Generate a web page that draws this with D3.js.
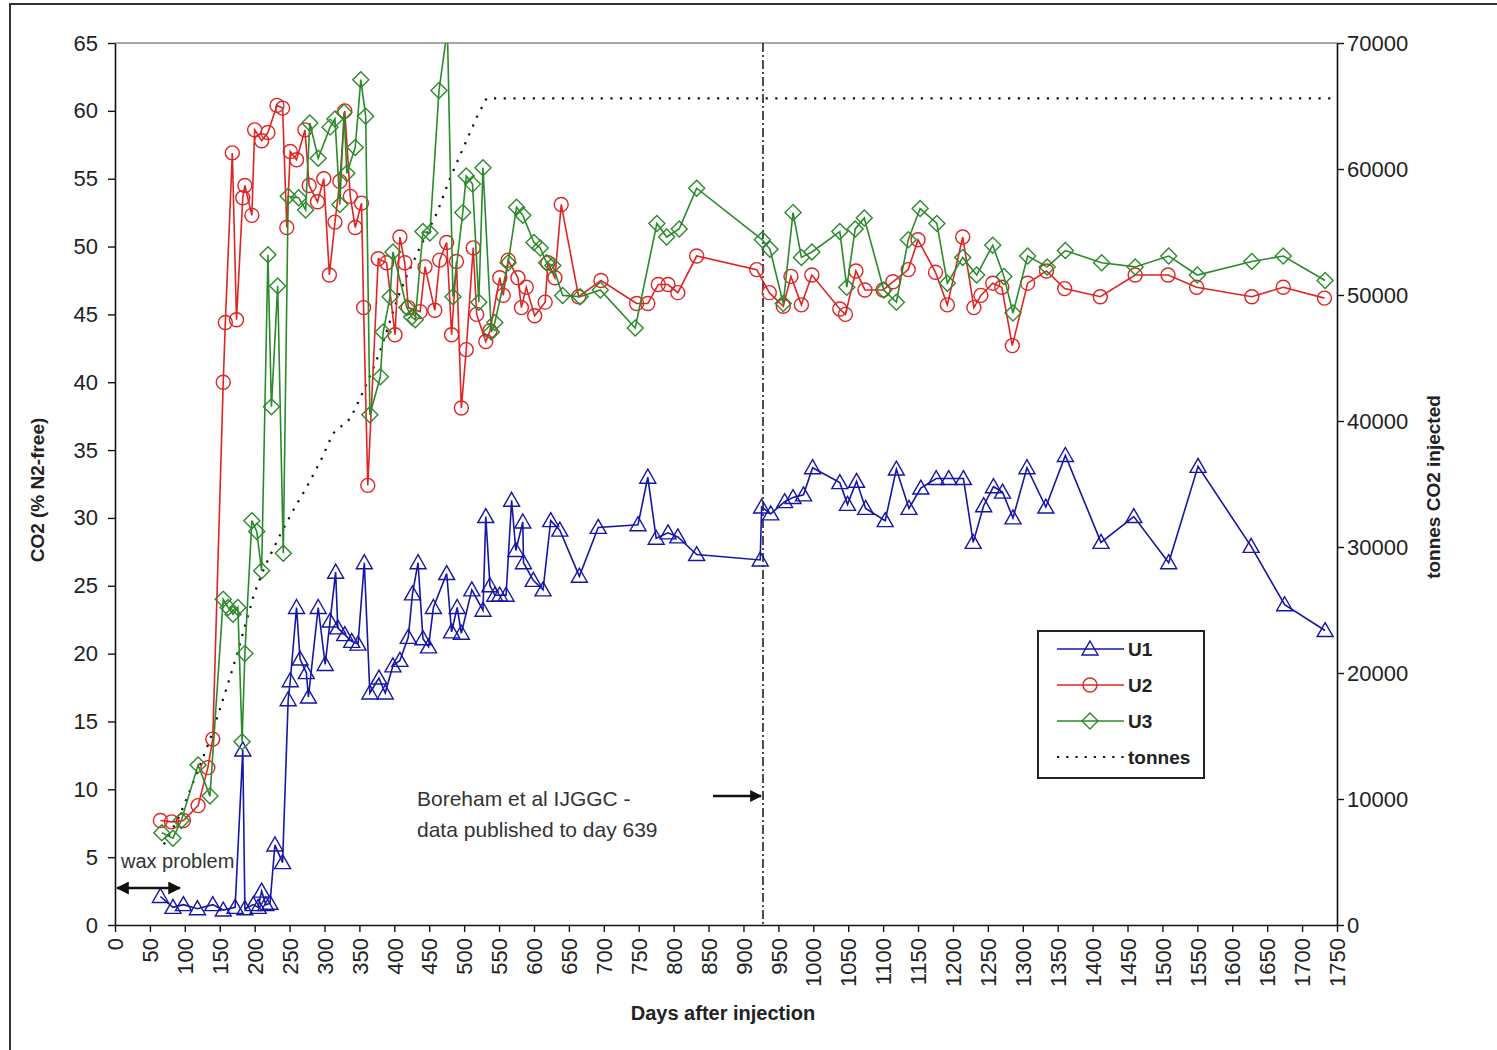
<!DOCTYPE html>
<html><head><meta charset="utf-8">
<script src="https://cdn.jsdelivr.net/npm/d3@7"></script>
<style>
body{margin:0;background:#fff}
text{font-family:Arial,"Liberation Sans",sans-serif}
</style>
</head><body>
<svg id="chart" width="1497" height="1050"></svg>
<script>
// CO2 concentration (% N2-free) at monitoring wells, [day, value]
const u1 = [[65,2.1],[83,1.3],[98,1.5],[118,1.2],[140,1.5],[155,1.1],[172,1.3],[183,12.9],[186,1.2],[198,1.5],[205,1.3],[210,2.5],[216,1.5],[222,1.6],[229,5.9],[240,4.6],[248,16.6],[251,18.0],[260,23.4],[265,19.6],[274,18.6],[277,16.8],[291,23.4],[301,19.2],[308,22.4],[316,26.0],[319,21.9],[329,21.4],[339,20.9],[348,20.7],[357,26.7],[365,17.1],[378,18.2],[387,17.1],[398,19.1],[408,19.5],[420,21.2],[426,24.4],[434,26.7],[441,21.1],[449,20.5],[456,23.4],[475,25.9],[482,21.6],[490,23.4],[496,21.5],[511,24.7],[527,23.2],[531,30.1],[537,25.0],[544,24.3],[551,24.3],[560,24.3],[568,31.3],[574,27.6],[584,29.7],[585,26.7],[599,25.4],[613,24.7],[624,29.8],[637,29.1],[665,25.7],[692,29.3],[749,29.5],[763,33.0],[775,28.5],[792,28.9],[806,28.6],[833,27.3],[924,26.9],[926,30.8],[939,30.3],[959,31.2],[971,31.5],[986,31.7],[999,33.7],[1038,32.6],[1049,31.0],[1062,32.7],[1075,30.7],[1103,29.8],[1119,33.6],[1137,30.7],[1154,32.2],[1176,32.9],[1194,32.9],[1215,32.9],[1229,28.2],[1244,30.9],[1258,32.3],[1271,31.9],[1286,30.0],[1306,33.7],[1333,30.8],[1361,34.6],[1412,28.2],[1459,30.1],[1509,26.7],[1551,33.8],[1627,27.9],[1675,23.6],[1733,21.7]];

const u2 = [[65,7.7],[81,7.6],[98,7.7],[119,8.8],[133,11.6],[140,13.7],[155,40.0],[158,44.4],[168,56.9],[174,44.6],[183,53.6],[186,54.5],[196,52.3],[200,58.6],[210,57.8],[219,58.4],[232,60.4],[240,60.2],[246,51.4],[251,57.0],[260,56.4],[272,58.6],[278,54.5],[290,53.3],[299,55.0],[307,47.9],[315,51.8],[322,54.8],[329,60.0],[337,53.7],[344,51.4],[353,53.2],[356,45.5],[362,32.4],[377,49.1],[389,48.8],[401,43.5],[408,50.7],[415,48.8],[420,45.5],[437,45.2],[444,48.5],[458,45.3],[465,49.0],[475,50.3],[482,43.5],[489,48.9],[496,38.1],[503,42.4],[513,49.9],[518,45.0],[531,43.0],[537,43.8],[551,47.7],[556,46.4],[563,49.0],[577,47.7],[582,45.5],[589,47.0],[601,44.9],[616,45.9],[620,48.8],[630,47.7],[639,53.1],[664,46.3],[696,47.5],[747,45.8],[763,45.8],[778,47.2],[792,47.2],[806,46.6],[833,49.3],[919,48.3],[937,46.6],[957,45.6],[968,47.8],[983,45.7],[998,47.9],[1038,45.4],[1046,45.0],[1061,48.2],[1074,46.8],[1100,46.8],[1114,47.4],[1136,48.3],[1150,50.5],[1175,48.1],[1192,45.7],[1214,50.7],[1230,45.5],[1240,46.4],[1257,47.3],[1270,47.0],[1285,42.7],[1307,47.3],[1334,48.2],[1360,46.9],[1411,46.3],[1461,47.9],[1508,47.9],[1549,47.0],[1628,46.3],[1673,47.0],[1732,46.2]];

const u3 = [[67,6.8],[83,6.4],[95,7.7],[119,11.8],[136,9.5],[155,24.0],[162,23.4],[169,22.9],[176,23.4],[182,13.5],[186,20.0],[196,29.8],[203,29.0],[210,26.1],[219,49.4],[224,38.2],[233,47.1],[241,27.4],[248,53.7],[263,53.6],[273,52.7],[279,59.1],[291,56.5],[308,58.8],[315,59.4],[322,53.1],[328,59.9],[332,55.4],[344,57.3],[352,62.3],[359,59.6],[365,37.6],[380,40.4],[384,43.7],[394,46.3],[398,49.6],[418,45.5],[425,44.8],[430,44.6],[441,51.1],[451,51.0],[464,61.5],[476,66.0],[484,46.3],[498,52.5],[503,55.2],[512,54.6],[521,45.9],[527,55.8],[539,43.7],[544,44.4],[563,48.8],[575,52.9],[584,52.3],[600,50.3],[609,49.9],[618,48.8],[627,48.6],[641,46.4],[666,46.3],[695,46.8],[745,44.0],[776,51.7],[790,50.7],[808,51.3],[833,54.3],[927,50.5],[938,49.8],[957,45.8],[971,52.5],[983,49.2],[998,49.6],[1038,51.1],[1048,47.0],[1060,51.3],[1073,52.1],[1101,46.8],[1119,45.9],[1136,50.5],[1153,52.8],[1177,51.7],[1192,47.3],[1214,49.2],[1234,47.9],[1257,50.1],[1273,47.8],[1286,45.1],[1307,49.3],[1335,48.5],[1361,49.7],[1413,48.8],[1461,48.5],[1509,49.3],[1550,47.9],[1628,48.9],[1673,49.3],[1733,47.5]];

// cumulative tonnes of CO2 injected, [day, tonnes]
const tonnes = [[70,6400],[92,8600],[109,10900],[136,14700],[153,17600],[170,20600],[186,23700],[200,26400],[215,28500],[235,30800],[255,32900],[275,34800],[295,36900],[312,39000],[337,40200],[351,41800],[370,44200],[380,45600],[405,49800],[420,51800],[437,53800],[461,56500],[480,59300],[499,61700],[518,64100],[532,65600],[1750,65600]];

const xTicks = d3.range(0, 1751, 50);
const yTicks = d3.range(0, 66, 5);
const yRightTicks = d3.range(0, 70001, 10000);
const publishedDay = 928;

const svg = d3.select("#chart");
const m = {left:115, right:1337, top:43, bottom:925};
const x = d3.scaleLinear().domain([0,1750]).range([m.left,m.right]);
const y = d3.scaleLinear().domain([0,65]).range([m.bottom,m.top]);
const yR = d3.scaleLinear().domain([0,70000]).range([m.bottom,m.top]);
const plain = d3.format("d");

// outer frame
svg.append("rect").attr("x",10).attr("y",4).attr("width",1500).attr("height",1070)
  .attr("fill","none").attr("stroke","#333").attr("stroke-width",2);

svg.append("defs").append("clipPath").attr("id","plot")
  .append("rect").attr("x",m.left).attr("y",m.top).attr("width",m.right-m.left).attr("height",m.bottom-m.top);

// plot area top border
svg.append("line").attr("x1",m.left).attr("x2",m.right).attr("y1",m.top).attr("y2",m.top)
  .attr("stroke","#8a8a8a").attr("stroke-width",1.5);

const fs = 22;
function styleAxis(g){
  g.selectAll(".domain").attr("stroke","#111").attr("stroke-width",1.6);
  g.selectAll(".tick line").attr("stroke","#111").attr("stroke-width",1.4);
  g.selectAll(".tick text").attr("font-size",fs).attr("fill","#222").attr("font-family","Arial, 'Liberation Sans', sans-serif");
}
const gL = svg.append("g").attr("transform",`translate(${m.left},0)`)
  .call(d3.axisLeft(y).tickValues(yTicks).tickFormat(plain).tickSize(7).tickPadding(10).tickSizeOuter(0));
styleAxis(gL);
const gR = svg.append("g").attr("transform",`translate(${m.right},0)`)
  .call(d3.axisRight(yR).tickValues(yRightTicks).tickFormat(plain).tickSize(7).tickPadding(3).tickSizeOuter(0));
styleAxis(gR);
const gB = svg.append("g").attr("transform",`translate(0,${m.bottom})`)
  .call(d3.axisBottom(x).tickValues(xTicks).tickFormat(plain).tickSize(7).tickSizeOuter(0));
styleAxis(gB);
gB.selectAll(".tick text").attr("transform","rotate(-90)").attr("text-anchor","end")
  .attr("dy","0.35em").attr("x",-13).attr("y",0);

// axis titles
svg.append("text").attr("transform","translate(44,490) rotate(-90)").attr("text-anchor","middle")
  .attr("font-size",19).attr("font-weight","bold").attr("fill","#222").text("CO2 (%  N2-free)");
svg.append("text").attr("transform","translate(1440,487) rotate(-90)").attr("text-anchor","middle")
  .attr("font-size",19).attr("font-weight","bold").attr("fill","#222").text("tonnes CO2 injected");
svg.append("text").attr("x",723).attr("y",1020).attr("text-anchor","middle")
  .attr("font-size",20).attr("font-weight","bold").attr("fill","#222").text("Days after injection");

const plot = svg.append("g").attr("clip-path","url(#plot)");

// cumulative injection (right axis)
plot.append("path").datum(tonnes)
  .attr("d", d3.line().x(d=>x(d[0])).y(d=>yR(d[1])))
  .attr("fill","none").attr("stroke","#111").attr("stroke-width",2.2).attr("stroke-dasharray","2.2,7.5");

// publication cut-off marker
plot.append("line").attr("x1",x(publishedDay)).attr("x2",x(publishedDay)).attr("y1",m.top).attr("y2",m.bottom)
  .attr("stroke","#111").attr("stroke-width",1.5).attr("stroke-dasharray","9,3,2,3");

const series = [
  {name:"U1", data:u1, color:"#1616a6", shape:"tri"},
  {name:"U2", data:u2, color:"#e02424", shape:"circ"},
  {name:"U3", data:u3, color:"#2b8a2b", shape:"diam"}
];
function markerPath(shape){
  if(shape==="tri") return "M0,-8 L8,6 L-8,6 Z";
  if(shape==="diam") return "M0,-8 L8,0 L0,8 L-8,0 Z";
  return d3.arc()({innerRadius:0, outerRadius:7, startAngle:0, endAngle:2*Math.PI});
}
const line = d3.line().x(d=>x(d[0])).y(d=>y(d[1]));
series.forEach(s=>{
  const g = plot.append("g");
  g.append("path").datum(s.data).attr("d",line)
    .attr("fill","none").attr("stroke",s.color).attr("stroke-width",1.6);
  g.selectAll("path.mk").data(s.data).join("path").attr("class","mk")
    .attr("transform",d=>`translate(${x(d[0])},${y(d[1])})`)
    .attr("d",markerPath(s.shape)).attr("fill","none").attr("stroke",s.color).attr("stroke-width",1.4);
});

// arrowheads
const defs = svg.select("defs");
defs.append("marker").attr("id","ah").attr("viewBox","0 0 10 10").attr("refX",9).attr("refY",5)
  .attr("markerWidth",5).attr("markerHeight",5).attr("orient","auto-start-reverse")
  .attr("markerUnits","strokeWidth")
  .append("path").attr("d","M0,0 L10,5 L0,10 Z").attr("fill","#111");

// wax problem annotation
svg.append("line").attr("x1",x(3)).attr("x2",x(93)).attr("y1",888).attr("y2",888)
  .attr("stroke","#111").attr("stroke-width",2.6)
  .attr("marker-start","url(#ah)").attr("marker-end","url(#ah)");
svg.append("text").attr("x",121).attr("y",868).attr("font-size",20).attr("fill","#333").text("wax problem");

// publication annotation
svg.append("text").attr("x",417).attr("y",806).attr("font-size",21).attr("fill","#333").text("Boreham et al IJGGC -");
svg.append("text").attr("x",417).attr("y",837).attr("font-size",21).attr("fill","#333").text("data published to day 639");
svg.append("line").attr("x1",713).attr("x2",x(publishedDay)-2).attr("y1",796).attr("y2",796)
  .attr("stroke","#111").attr("stroke-width",2.4).attr("marker-end","url(#ah)");

// legend
const lg = svg.append("g").attr("transform","translate(1038,631)");
lg.append("rect").attr("width",166).attr("height",147).attr("fill","#fff").attr("stroke","#222").attr("stroke-width",2);
const legendItems = [...series, {name:"tonnes", color:"#111", shape:null}];
legendItems.forEach((s,i)=>{
  const cy = 18 + i*36;
  const l = lg.append("line").attr("x1",19).attr("x2",86).attr("y1",cy).attr("y2",cy)
    .attr("stroke",s.color).attr("stroke-width", s.shape?1.6:2.2);
  if(!s.shape) l.attr("stroke-dasharray","2.2,7");
  else lg.append("path").attr("transform",`translate(52,${cy})`).attr("d",markerPath(s.shape))
    .attr("fill","none").attr("stroke",s.color).attr("stroke-width",1.4);
  lg.append("text").attr("x",90).attr("y",cy).attr("dy","0.36em").attr("font-size",19)
    .attr("font-weight","bold").attr("fill","#222").text(s.name);
});
</script>
</body></html>
